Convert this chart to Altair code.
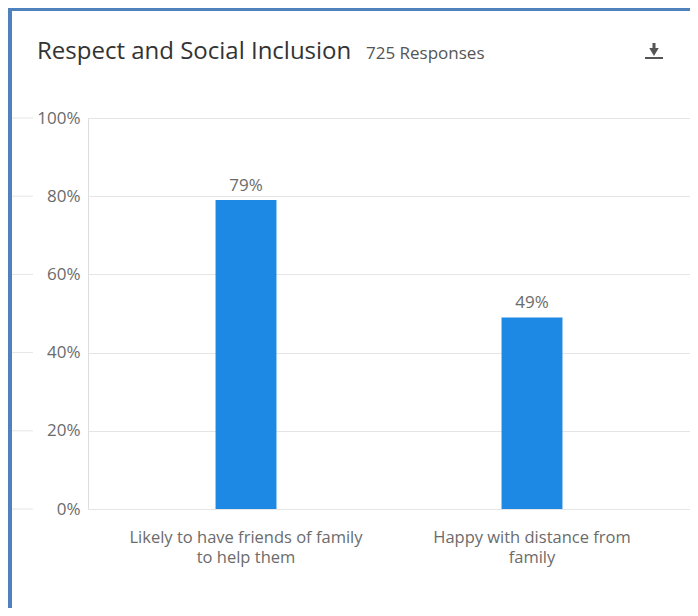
import altair as alt
import pandas as pd

categories = ["Likely to have friends of family to help them", "Happy with distance from family"]
label_lines = [["Likely to have friends of family", "to help them"], ["Happy with distance from", "family"]]
values = [79, 49]
y_ticks = [0, 20, 40, 60, 80, 100]
title_text = "Respect and Social Inclusion"
subtitle_text = "725 Responses"

df = pd.DataFrame({"category": categories, "value": values})
ticks_df = pd.DataFrame({"t": y_ticks})

label_expr = " : ".join(
    [f"datum.value == '{c}' ? {l!r}" for c, l in zip(categories, label_lines)]
) + " : datum.value"

TXT = "#6b6b6b"
FONT = "Open Sans"
GRID = "#e5e5e5"
BLUE = "#1e88e5"
BORDER = "#4f81bd"

xenc = alt.X("category:N", sort=categories, title=None,
             scale=alt.Scale(paddingInner=0.787, paddingOuter=0.446),
             axis=alt.Axis(labelExpr=label_expr, labelAngle=0, domain=False, ticks=False,
                           labelPadding=20, labelFontSize=16.5, labelLineHeight=20,
                           labelColor=TXT, labelFont=FONT, labelLimit=400))
yscale = alt.Scale(domain=[0, 100], nice=False)

bars = alt.Chart(df).mark_bar(color=BLUE).encode(
    x=xenc,
    y=alt.Y("value:Q", scale=yscale, title=None,
            axis=alt.Axis(values=y_ticks, labelExpr="datum.value + '%'", domain=False, ticks=False,
                          grid=True, gridColor=GRID, gridWidth=1, labelPadding=8,
                          labelFontSize=17, labelColor=TXT, labelFont=FONT)),
)

vlabels = alt.Chart(df).mark_text(dy=-14, fontSize=17, color=TXT, font=FONT).encode(
    x=alt.X("category:N", sort=categories),
    y=alt.Y("value:Q", scale=yscale),
    text=alt.Text("label:N"),
).transform_calculate(label="datum.value + '%'")

stubs = alt.Chart(ticks_df).mark_rule(color=GRID, strokeWidth=1).encode(
    y=alt.Y("t:Q", scale=yscale),
    x=alt.value(-76), x2=alt.value(-55),
)

one = alt.Data(values=[{"a": 1}])

title = alt.Chart(one).mark_text(align="left", baseline="alphabetic", fontSize=24,
                                 color="#333333", font=FONT).encode(
    x=alt.value(-51), y=alt.value(-59), text=alt.value(title_text))
subtitle = alt.Chart(one).mark_text(align="left", baseline="alphabetic", fontSize=17,
                                    color="#555555", font=FONT).encode(
    x=alt.value(278), y=alt.value(-59), text=alt.value(subtitle_text))

icon_bar = alt.Chart(one).mark_rule(color="#555555", strokeWidth=2).encode(
    x=alt.value(557), x2=alt.value(575), y=alt.value(-60))
icon_shaft = alt.Chart(one).mark_rule(color="#555555", strokeWidth=3).encode(
    x=alt.value(566), y=alt.value(-75), y2=alt.value(-67))
icon_head = alt.Chart(one).mark_point(shape="triangle-down", filled=True, color="#555555",
                                      size=90, opacity=1).encode(
    x=alt.value(566), y=alt.value(-66))

border_top = alt.Chart(one).mark_rule(color=BORDER, strokeWidth=4).encode(
    x=alt.value(-80), x2=alt.value(602), y=alt.value(-109))
border_left = alt.Chart(one).mark_rule(color=BORDER, strokeWidth=4).encode(
    x=alt.value(-78), y=alt.value(-110), y2=alt.value(490))

chart = alt.layer(
    stubs, bars, vlabels, title, subtitle, icon_bar, icon_shaft, icon_head, border_top, border_left
).properties(
    width=602, height=391,
    padding={"left": 80, "top": 110, "right": 0, "bottom": 99},
    autosize=alt.AutoSizeParams(type="none"),
).configure_view(stroke=None).configure(background="white")

chart.save("out.html", embed_options={"renderer": "svg", "actions": False})
